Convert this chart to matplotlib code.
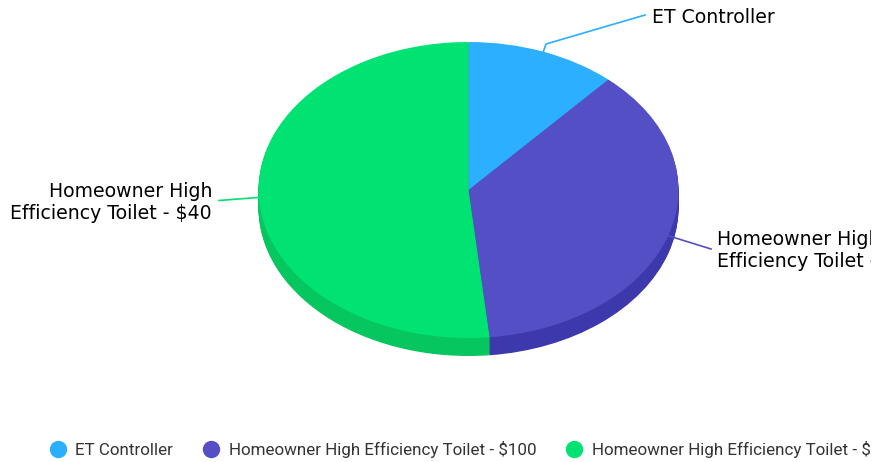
import matplotlib
matplotlib.use('Agg')
import matplotlib.pyplot as plt
import numpy as np
from matplotlib.lines import Line2D
from matplotlib.transforms import Bbox

labels = ['ET Controller', 'Homeowner High Efficiency Toilet - $100', 'Homeowner High Efficiency Toilet - $40']
wrapped = ['ET Controller', 'Homeowner High\nEfficiency Toilet - $100', 'Homeowner High\nEfficiency Toilet - $40']
values = [11.6, 36.8, 51.6]
colors = ['#2caffe', '#544fc5', '#00e272']
side_colors = ['#2298e0', '#3d38ab', '#06c65f']

W, H = 890, 462
cx, cy = 468.5, 190
rx, ry = 210, 148
depth = 18
clip_w = 871


def px(x, y):
    # picture pixels to pie units
    return (x - cx) / rx, (cy - y) / ry


fig = plt.figure(figsize=(W / 100, H / 100), dpi=100)
ax = fig.add_axes([0, 0, 1, 1])

# stacked dark pies make the side wall
for d in range(depth, 0, -1):
    ax.pie(values, colors=side_colors, startangle=90, counterclock=False,
           center=(0, -d / ry), radius=1, wedgeprops={'linewidth': 0})
ax.pie(values, colors=colors, startangle=90, counterclock=False,
       center=(0, 0), radius=1, wedgeprops={'linewidth': 0})

ax.set_aspect('auto')
ax.set_xlim(px(0, 0)[0], px(W, 0)[0])
ax.set_ylim(px(0, H)[1], px(0, 0)[1])
ax.axis('off')

# leader lines start at the middle angle of each slice
fractions = np.array(values) / sum(values)
mids = (np.cumsum(fractions) - fractions / 2) * 2 * np.pi
anchors = [(np.sin(m), np.cos(m)) for m in mids]
clip = Bbox([[0, 0], [clip_w, H]])

bends = [[(546, 44), (645, 15)], [(711, 249)], [(219, 200.5)]]
text_pos = [(652, 17), (717, 250.5), (212, 202)]
aligns = ['left', 'left', 'right']
for i in range(3):
    pts = [anchors[i]] + [px(*b) for b in bends[i]]
    xs, ys = zip(*pts)
    ax.plot(xs, ys, color=colors[i], lw=1.2, solid_joinstyle='round')
    tx, ty = px(*text_pos[i])
    t = ax.text(tx, ty, wrapped[i], ha=aligns[i], va='center', fontsize=13.55,
                family='DejaVu Sans', color='black', linespacing=1.2,
                multialignment=aligns[i])
    t.set_clip_box(clip)
    t.set_clip_on(True)

handles = [Line2D([], [], ls='', marker='o', ms=11.5, mfc=c, mec=c) for c in colors]
leg = fig.legend(handles, labels, ncol=3, frameon=False, loc='lower left',
                 bbox_to_anchor=(42 / W - 0.005, -8 / H), borderaxespad=0.3,
                 prop={'family': 'Roboto', 'size': 12.25}, labelcolor='#333333',
                 handlelength=1.0, handletextpad=0.52, columnspacing=1.74)
for t in leg.get_texts():
    t.set_clip_box(clip)
    t.set_clip_on(True)

fig.savefig('out.png', dpi=100)
